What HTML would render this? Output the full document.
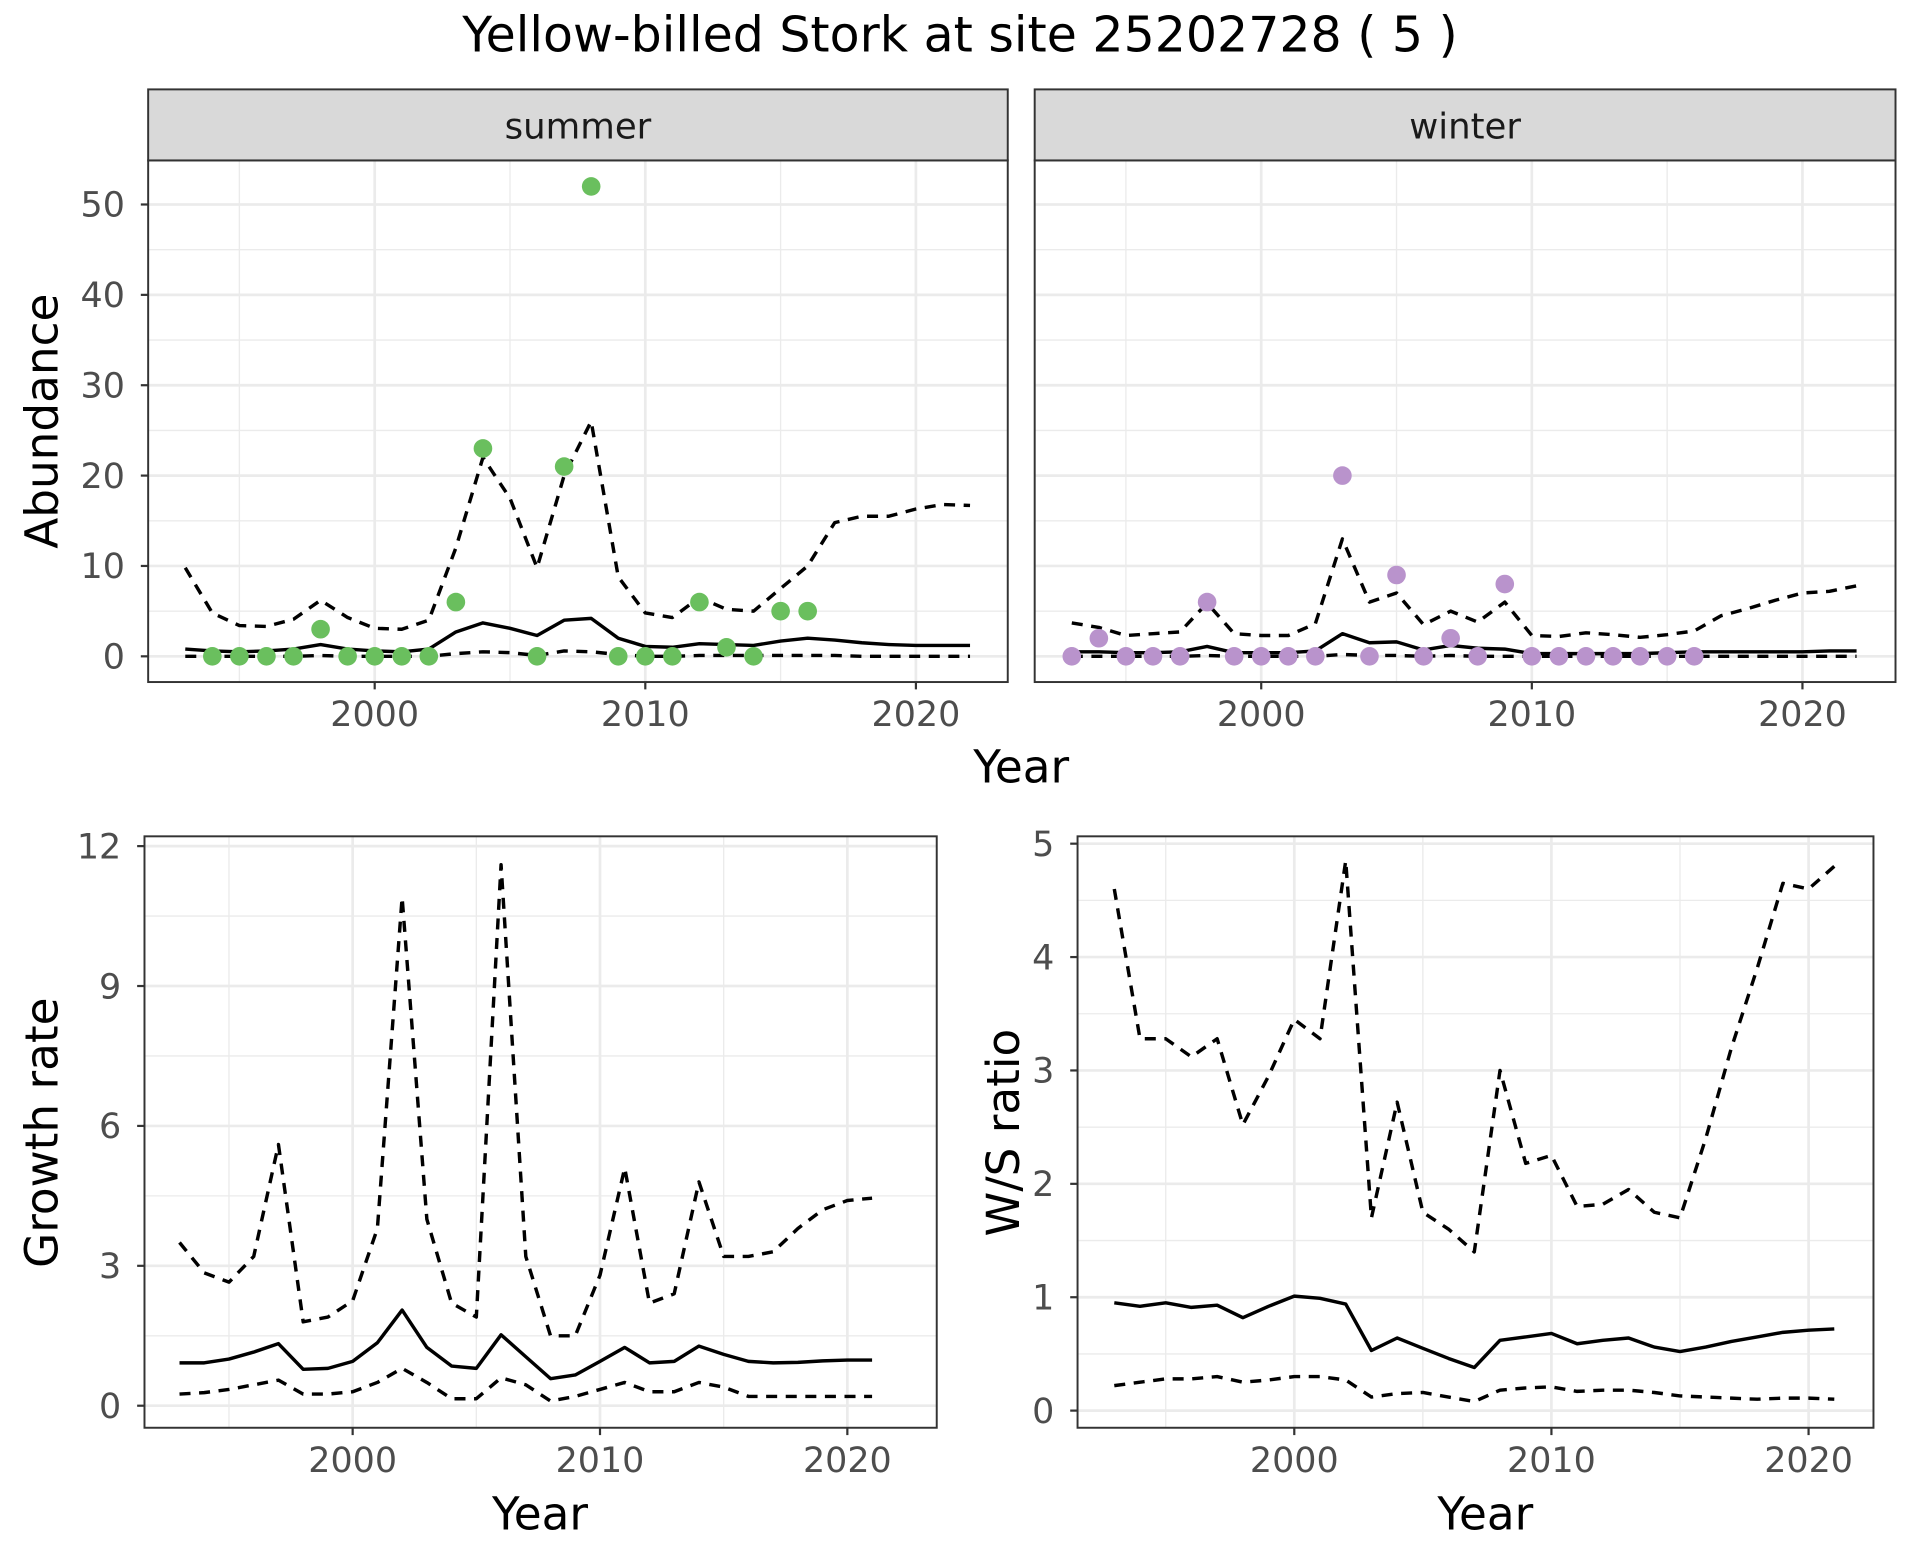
<!DOCTYPE html>
<html><head><meta charset="utf-8"><style>
html,body{margin:0;padding:0;background:#fff;}
svg{display:block;font-family:"DejaVu Sans","Liberation Sans",sans-serif;}
</style></head><body>
<svg id="chart" width="1920" height="1560" viewBox="0 0 1568 1274" xmlns="http://www.w3.org/2000/svg">
<text x="784" y="42" text-anchor="middle" font-size="40" fill="#000">Yellow-billed Stork at site 25202728 ( 5 )</text>
</svg>
<script>
const years = [1993,1994,1995,1996,1997,1998,1999,2000,2001,2002,2003,2004,2005,2006,2007,2008,2009,2010,2011,2012,2013,2014,2015,2016,2017,2018,2019,2020,2021,2022];
const summerPtYears = [1994,1995,1996,1997,1998,1999,2000,2001,2002,2003,2004,2006,2007,2008,2009,2010,2011,2012,2013,2014,2015,2016];
const summerPts = [0,0,0,0,3,0,0,0,0,6,23,0,21,52,0,0,0,6,1,0,5,5];
const summerMid = [0.8,0.6,0.5,0.6,0.8,1.3,0.8,0.6,0.5,0.8,2.7,3.7,3.1,2.3,4.0,4.2,2.0,1.1,1.0,1.4,1.3,1.2,1.7,2.0,1.8,1.5,1.3,1.2,1.2,1.2];
const summerUp = [9.8,4.8,3.4,3.3,4.1,6.2,4.3,3.1,3.0,4.0,12,22,17.5,9.8,20,26,8.8,4.8,4.3,6.5,5.2,5.0,7.5,10,14.8,15.5,15.5,16.3,16.8,16.7];
const summerLo = [0,0,0,0,0,0.1,0,0,0,0,0.3,0.5,0.4,0.1,0.6,0.5,0.2,0,0,0.1,0.1,0.1,0.1,0.1,0.1,0,0,0,0,0];
const winterPtYears = [1993,1994,1995,1996,1997,1998,1999,2000,2001,2002,2003,2004,2005,2006,2007,2008,2009,2010,2011,2012,2013,2014,2015,2016];
const winterPts = [0,2,0,0,0,6,0,0,0,0,20,0,9,0,2,0,8,0,0,0,0,0,0,0];
const winterMid = [0.5,0.5,0.4,0.4,0.5,1.1,0.4,0.4,0.4,0.6,2.5,1.5,1.6,0.7,1.2,0.9,0.8,0.3,0.3,0.3,0.3,0.3,0.4,0.5,0.5,0.5,0.5,0.5,0.6,0.6];
const winterUp = [3.7,3.2,2.3,2.5,2.7,5.9,2.5,2.3,2.3,3.6,13,6,7,3.5,5,3.8,6,2.3,2.2,2.6,2.4,2.1,2.4,2.8,4.5,5.3,6.2,7,7.2,7.8];
const winterLo = [0,0,0,0,0,0.1,0,0,0,0,0.2,0.1,0.1,0,0.1,0,0,0,0,0,0,0,0,0,0,0,0,0,0,0];
const years2 = years.slice(0,29);
const growthMid = [0.92,0.92,1.0,1.15,1.33,0.78,0.8,0.95,1.35,2.05,1.25,0.85,0.8,1.52,1.05,0.58,0.66,0.95,1.25,0.92,0.95,1.28,1.1,0.95,0.92,0.93,0.96,0.98,0.98];
const growthUp = [3.5,2.85,2.65,3.2,5.6,1.8,1.9,2.25,3.8,10.9,4.0,2.2,1.9,11.6,3.2,1.5,1.5,2.8,5.1,2.2,2.4,4.8,3.2,3.2,3.3,3.8,4.2,4.4,4.45];
const growthLo = [0.25,0.28,0.35,0.45,0.55,0.25,0.25,0.3,0.5,0.8,0.5,0.15,0.15,0.6,0.45,0.1,0.2,0.35,0.5,0.3,0.3,0.5,0.4,0.2,0.2,0.2,0.2,0.2,0.2];
const wsMid = [0.95,0.92,0.95,0.91,0.93,0.82,0.92,1.01,0.99,0.94,0.53,0.64,0.55,0.46,0.38,0.62,0.65,0.68,0.59,0.62,0.64,0.56,0.52,0.56,0.61,0.65,0.69,0.71,0.72];
const wsUp = [4.6,3.28,3.28,3.12,3.28,2.52,2.95,3.45,3.28,4.85,1.7,2.72,1.75,1.6,1.4,3.0,2.18,2.25,1.8,1.82,1.95,1.75,1.7,2.4,3.2,3.9,4.65,4.6,4.8];
const wsLo = [0.22,0.25,0.28,0.28,0.3,0.25,0.27,0.3,0.3,0.27,0.12,0.15,0.16,0.12,0.08,0.18,0.2,0.21,0.17,0.18,0.18,0.16,0.13,0.12,0.11,0.1,0.11,0.11,0.1];
const xTicks = [2000,2010,2020];
const xMinor = [1995,2005,2015];
const abTicks = [0,10,20,30,40,50];
const abMinor = [5,15,25,35,45];
const grTicks = [0,3,6,9,12];
const grMinor = [1.5,4.5,7.5,10.5];
const wsTicks = [0,1,2,3,4,5];
const wsMinor = [0.5,1.5,2.5,3.5,4.5];

const NS = "http://www.w3.org/2000/svg";
const svg = document.getElementById('chart');
function mk(tag, attrs, parent){const e=document.createElementNS(NS,tag);for(const k in attrs)e.setAttribute(k,attrs[k]);(parent||svg).appendChild(e);return e;}

function panel(p){
  const g = mk('g',{});
  
  
  mk('rect',{x:p.x0,y:p.y0,width:p.x1-p.x0,height:p.y1-p.y0,fill:'#fff'},g);
  p.yMinor.forEach(v=>{mk('line',{x1:p.x0,x2:p.x1,y1:p.ya(v),y2:p.ya(v),stroke:'#ebebeb','stroke-width':1.1},g);});
  xMinor.forEach(v=>{mk('line',{x1:p.xa(v),x2:p.xa(v),y1:p.y0,y2:p.y1,stroke:'#ebebeb','stroke-width':1.1},g);});
  p.yTicks.forEach(v=>{mk('line',{x1:p.x0,x2:p.x1,y1:p.ya(v),y2:p.ya(v),stroke:'#ebebeb','stroke-width':2.2},g);});
  xTicks.forEach(v=>{mk('line',{x1:p.xa(v),x2:p.xa(v),y1:p.y0,y2:p.y1,stroke:'#ebebeb','stroke-width':2.2},g);});
  p.lines.forEach(l=>{
    const pts = l.ys.map((v,i)=>p.xa(l.xs[i]).toFixed(1)+','+p.ya(v).toFixed(1)).join(' ');
    const pl = mk('polyline',{points:pts,fill:'none',stroke:'#000','stroke-width':2.8,'stroke-linejoin':'round'},g);
    if(l.dash) pl.setAttribute('stroke-dasharray','9,7');
    
    
  });
  if(p.pts){
    p.pts.ys.forEach((v,i)=>{
      const c = mk('circle',{cx:p.xa(p.pts.xs[i]),cy:p.ya(v),r:7.6,fill:p.pts.color},g);
      
      
    });
  }
  mk('rect',{x:p.x0,y:p.y0,width:p.x1-p.x0,height:p.y1-p.y0,fill:'none',stroke:'#333','stroke-width':1.6},g);
  if(p.showY){
    p.yTicks.forEach(v=>{
      mk('line',{x1:p.x0-6,x2:p.x0,y1:p.ya(v),y2:p.ya(v),stroke:'#333','stroke-width':1.8},g);
      const t = mk('text',{x:p.x0-19,y:p.ya(v)+10,'text-anchor':'end','font-size':28.5,fill:'#4d4d4d'},g);
      t.textContent = v;
      
      
    });
  }
  xTicks.forEach(v=>{
    mk('line',{x1:p.xa(v),x2:p.xa(v),y1:p.y1,y2:p.y1+6,stroke:'#333','stroke-width':1.8},g);
    const t = mk('text',{x:p.xa(v),y:p.y1+36,'text-anchor':'middle','font-size':28.5,fill:'#4d4d4d'},g);
    t.textContent = v;
    
    
  });
  if(p.strip){
    const s = mk('rect',{x:p.x0,y:73,width:p.x1-p.x0,height:p.y0-73,fill:'#d9d9d9',stroke:'#333','stroke-width':1.6},g);
    
    
    const t = mk('text',{x:(p.x0+p.x1)/2,y:113,'text-anchor':'middle','font-size':29,fill:'#1a1a1a'},g);
    t.textContent = p.strip;
    
    
  }
}
function lin(d0,d1,r0,r1){return v=>r0+(v-d0)*(r1-r0)/(d1-d0);}

panel({name:'summer',x0:121,x1:823,y0:131,y1:557,xa:lin(2000,2020,306,748),ya:lin(0,50,536,167),yTicks:abTicks,yMinor:abMinor,showY:true,strip:'summer',
  lines:[{xs:years,ys:summerUp,dash:true,name:'summer-upper-line'},{xs:years,ys:summerLo,dash:true,name:'summer-lower-line'},{xs:years,ys:summerMid,dash:false,name:'summer-mean-line'}],
  pts:{xs:summerPtYears,ys:summerPts,color:'#6abf5e'}});
panel({name:'winter',x0:845,x1:1548,y0:131,y1:557,xa:lin(2000,2020,1030,1472),ya:lin(0,50,536,167),yTicks:abTicks,yMinor:abMinor,showY:false,strip:'winter',
  lines:[{xs:years,ys:winterUp,dash:true,name:'winter-upper-line'},{xs:years,ys:winterLo,dash:true,name:'winter-lower-line'},{xs:years,ys:winterMid,dash:false,name:'winter-mean-line'}],
  pts:{xs:winterPtYears,ys:winterPts,color:'#b993cc'}});
panel({name:'growth',x0:118,x1:765,y0:683,y1:1166,xa:lin(2000,2020,288,692),ya:lin(0,12,1148,691),yTicks:grTicks,yMinor:grMinor,showY:true,
  lines:[{xs:years2,ys:growthUp,dash:true,name:'growth-upper-line'},{xs:years2,ys:growthLo,dash:true,name:'growth-lower-line'},{xs:years2,ys:growthMid,dash:false,name:'growth-mean-line'}]});
panel({name:'ws-ratio',x0:880,x1:1530,y0:683,y1:1166,xa:lin(2000,2020,1057,1477),ya:lin(0,5,1152,689),yTicks:wsTicks,yMinor:wsMinor,showY:true,
  lines:[{xs:years2,ys:wsUp,dash:true,name:'ws-upper-line'},{xs:years2,ys:wsLo,dash:true,name:'ws-lower-line'},{xs:years2,ys:wsMid,dash:false,name:'ws-mean-line'}]});

function label(txt,x,y,rot,name){
  const t = mk('text',{x:x,y:y,'text-anchor':'middle','font-size':37,fill:'#000'});
  if(rot) t.setAttribute('transform','rotate(-90 '+x+' '+y+')');
  t.textContent = txt;
  
  
}
label('Year',834,639,false,'top-x-axis-title');
label('Abundance',47,344,true,'abundance-y-axis-title');
label('Year',441,1249,false,'growth-x-axis-title');
label('Growth rate',47,925,true,'growth-y-axis-title');
label('Year',1213,1249,false,'ws-x-axis-title');
label('W/S ratio',832,925,true,'ws-y-axis-title');
</script>
</body></html>
